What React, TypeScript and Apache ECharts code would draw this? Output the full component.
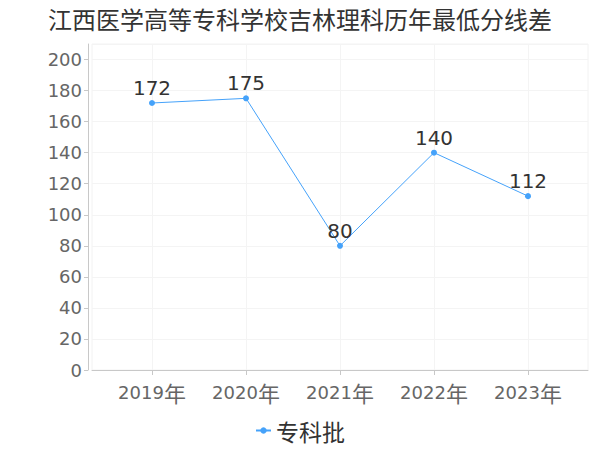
import React, { useEffect, useRef } from "react";
import * as echarts from "echarts";

const titleText = "江西医学高等专科学校吉林理科历年最低分线差";
const categories = ["2019年", "2020年", "2021年", "2022年", "2023年"];
const seriesName = "专科批";
const values = [172, 175, 80, 140, 112];
const yMin = 0;
const yMax = 210;
const yInterval = 20;

const FONT = "'DejaVu Sans', 'Noto Sans CJK SC', sans-serif";
const CJK = "'Noto Sans CJK SC', sans-serif";
const BLUE = "#45a2fa";

export default function App() {
  const ref = useRef<HTMLDivElement>(null);
  useEffect(() => {
    document.body.style.margin = "0";
    if (!ref.current) return;
    const chart = echarts.init(ref.current, undefined, { renderer: "svg" });
    chart.setOption({
      animation: false,
      textStyle: { fontFamily: FONT },
      title: {
        text: titleText,
        left: "center",
        top: 1,
        textStyle: { fontSize: 24, fontWeight: "normal", color: "#333", fontFamily: CJK },
      },
      legend: {
        bottom: 3,
        left: "center",
        itemWidth: 15,
        itemHeight: 8,
        itemGap: 5,
        data: [seriesName],
        textStyle: { fontSize: 23, color: "#333", fontFamily: CJK },
      },
      grid: [
        { left: 92, right: 12, top: 44, bottom: 80, show: true, borderColor: "#f2f2f2", borderWidth: 1, backgroundColor: "transparent" },
        { left: 152, right: 72, top: 44, bottom: 80 },
      ],
      xAxis: [
        {
          gridIndex: 0,
          type: "category",
          data: categories,
          boundaryGap: true,
          offset: 2,
          axisLine: { show: true, lineStyle: { color: "#c8c8c8" } },
          axisTick: { show: false },
          axisLabel: { show: false },
          splitLine: { show: false },
        },
        {
          gridIndex: 1,
          type: "category",
          data: categories,
          boundaryGap: false,
          offset: 2,
          axisLine: { show: false },
          axisTick: { show: true, alignWithLabel: true, interval: 0, length: 5, lineStyle: { color: "#c8c8c8" } },
          axisLabel: {
            interval: 0,
            fontSize: 18,
            color: "#666",
            margin: 9,
            formatter: (v: string) => `{d|${v.replace("年", "")}}{c|年}`,
            rich: {
              d: { fontSize: 18, color: "#666", fontFamily: "'DejaVu Sans', sans-serif" },
              c: { fontSize: 22, color: "#666", fontFamily: CJK },
            },
          },
          splitLine: { show: true, interval: 0, lineStyle: { color: "#f4f4f4" } },
        },
      ],
      yAxis: [
        {
          gridIndex: 0,
          type: "value",
          min: yMin,
          max: yMax,
          interval: yInterval,
          offset: 4,
          axisLine: { show: true, lineStyle: { color: "#c8c8c8" } },
          axisTick: { show: true, length: 4, lineStyle: { color: "#c8c8c8" } },
          axisLabel: { fontSize: 18, color: "#666", margin: 6, showMaxLabel: false, fontFamily: FONT },
          splitLine: { show: true, lineStyle: { color: "#f4f4f4" } },
        },
        {
          gridIndex: 1,
          type: "value",
          min: yMin,
          max: yMax,
          interval: yInterval,
          show: false,
          splitLine: { show: false },
        },
      ],
      series: [
        {
          name: seriesName,
          type: "line",
          xAxisIndex: 1,
          yAxisIndex: 1,
          data: values,
          symbol: "circle",
          symbolSize: 6,
          itemStyle: { color: BLUE },
          lineStyle: { color: BLUE, width: 1 },
          label: { show: true, position: "top", distance: 2, fontSize: 20, color: "#333", fontFamily: FONT },
        },
      ],
    });
    return () => chart.dispose();
  }, []);
  return <div ref={ref} style={{ width: 600, height: 450 }} />;
}
